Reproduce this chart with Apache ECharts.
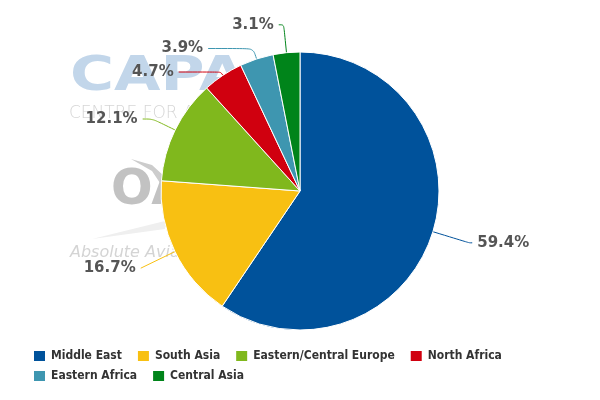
<!DOCTYPE html>
<html><head><meta charset="utf-8">
<script src="https://cdn.jsdelivr.net/npm/echarts@6/dist/echarts.min.js"></script>
<style>html,body{margin:0;padding:0;background:#fff}#c{width:600px;height:400px}</style>
</head><body><div id="c"></div>
<script>
const categories = ['Middle East','South Asia','Eastern/Central Europe','North Africa','Eastern Africa','Central Asia'];
const values = [59.4,16.7,12.1,4.7,3.9,3.1];
const colors = ['#00529b','#f8c012','#80b81d','#d0000f','#3e96b0','#00841a'];
// connector lengths (radial, horizontal) per slice
const lineLen = [38,38,25,4,11,28];
const lineLen2 = [3,0,10,42,45,5];

const legendFont = {fontFamily:'"DejaVu Sans Condensed","DejaVu Sans"', fontWeight:'bold', fontSize:12, color:'#333'};
const chart = echarts.init(document.getElementById('c'));
chart.setOption({
  animation:false,
  color: colors,
  graphic: [
    {type:'text', x:70, y:78, scaleX:1.25, z:0, style:{text:'CAPA', font:'bold 48px "DejaVu Sans"', fill:'#c2d6ea', verticalAlign:'middle', align:'left'}},
    {type:'text', x:69, y:114, z:0, style:{text:'CENTRE FOR AVIATION', font:'200 17px "DejaVu Sans"', fill:'#d6d6d6', verticalAlign:'middle', align:'left'}},
    {type:'polygon', z:0, shape:{points:[[131,159],[152,165],[164,176],[160,183],[152,171]]}, style:{fill:'#cccccc'}},
    {type:'text', x:111, y:191, z:0, style:{text:'OAG', font:'bold 49px "DejaVu Sans"', fill:'#c2c2c2', verticalAlign:'middle', align:'left'}},
    {type:'polygon', z:0, shape:{points:[[92,239],[165,221],[165,229]]}, style:{fill:'#efefef'}},
    {type:'text', x:70, y:253, z:0, style:{text:'Absolute Aviation Intelligence', font:'italic 200 16px "DejaVu Sans"', fill:'#d4d4d4', verticalAlign:'middle', align:'left'}}
  ],
  legend: [{
    left: 32, top: 349, padding: 0, itemWidth: 13, itemHeight: 12, itemGap: 14, icon: 'rect',
    textStyle: legendFont, data: categories.slice(0,4)
  },{
    left: 32, top: 369, padding: 0, itemWidth: 13, itemHeight: 12, itemGap: 14, icon: 'rect',
    textStyle: legendFont, data: categories.slice(4)
  }],
  series: [{
    type:'pie',
    center:[300,191], radius:139,
    startAngle:90, clockwise:true,
    avoidLabelOverlap:false,
    data: categories.map((c,i)=>({name:c, value:values[i],
      labelLine:{length:lineLen[i], length2:lineLen2[i]}})),
    itemStyle:{borderColor:'#fff', borderWidth:1},
    label:{
      formatter: p => p.value.toFixed(1)+'%',
      fontFamily:'DejaVu Sans', fontWeight:'bold', fontSize:15, color:'#555'
    },
    labelLine:{smooth:0.3, lineStyle:{width:1}},
    emphasis:{disabled:true}
  }]
});
</script></body></html>
